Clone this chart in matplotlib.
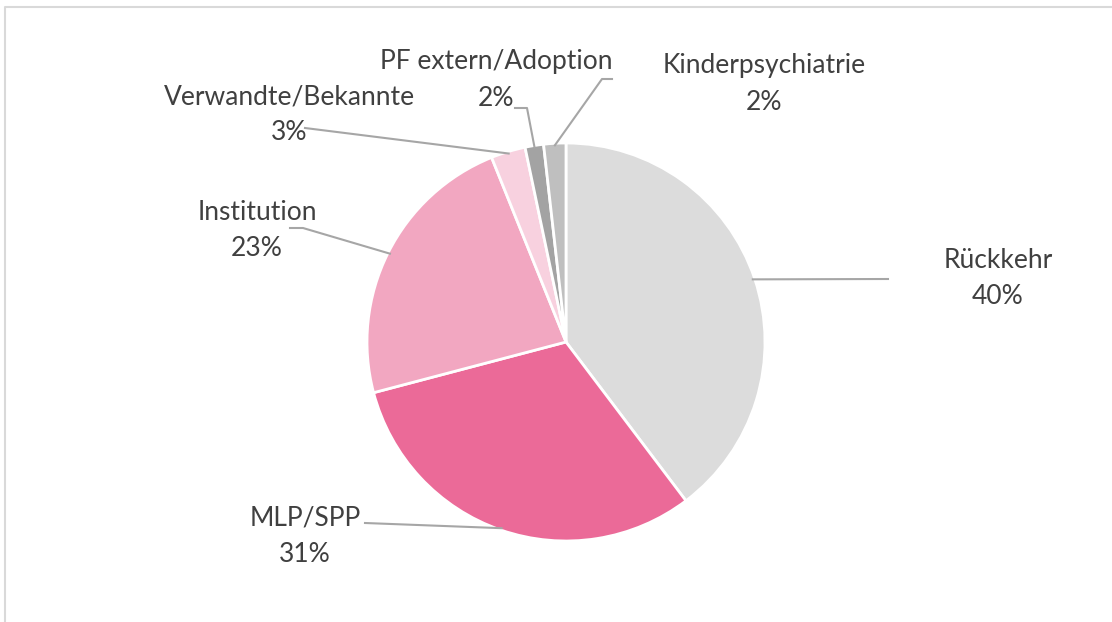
import numpy as np
import matplotlib
matplotlib.use("Agg")
from matplotlib import pyplot as plt

labels = ["Rückkehr", "MLP/SPP", "Institution", "Verwandte/Bekannte",
          "PF extern/Adoption", "Kinderpsychiatrie"]
values = [39.7, 31.2, 23.0, 2.8, 1.5, 1.8]
colors = ["#DCDCDC", "#EB6A98", "#F2A7C1", "#F8D1DF", "#A3A3A3", "#BFBFBF"]

# label centres and leader elbows (pixel coords, y from top)
label_pos = [(998, 278), (305, 536), (257, 231), (289, 115), (496, 80), (764, 84)]
leader_pts = [[(888, 279)], [(365, 523)], [(290, 228), (303, 228)],
              [(305, 128)], [(515, 108), (527, 108)], [(612, 79), (602, 79)]]

W, H = 1112, 622
cx, cy, R = 566, H - 342, 199

plt.rcParams['font.family'] = ['Lato', 'DejaVu Sans']
fig = plt.figure(figsize=(W / 100, H / 100), dpi=100)
ax = fig.add_axes([0, 0, 1, 1])
ax.axis('off')

# chart frame
ax.plot([4.5, 4.5, W + 5], [-5, H - 6.5, H - 6.5], color="#D9D9D9", lw=1.5)

wedges, _ = ax.pie(values, colors=colors, startangle=90, counterclock=False,
                   center=(cx, cy), radius=R,
                   wedgeprops=dict(edgecolor="white", linewidth=2))
ax.set_xlim(0, W)
ax.set_ylim(0, H)
ax.set_aspect('equal')

for w, lab, v, pos, pts in zip(wedges, labels, values, label_pos, leader_pts):
    mid = np.deg2rad((w.theta1 + w.theta2) / 2)
    ex, ey = cx + 0.99 * R * np.cos(mid), cy + 0.99 * R * np.sin(mid)
    xs = [p[0] for p in pts] + [ex]
    ys = [H - p[1] for p in pts] + [ey]
    ax.plot(xs, ys, color="#A6A6A6", lw=1.5)
    ax.text(pos[0], H - pos[1], f"{lab}\n{v:.0f}%", ha="center", va="center",
            fontsize=19, color="#404040", linespacing=1.55)

plt.savefig("out.png", dpi=100)
